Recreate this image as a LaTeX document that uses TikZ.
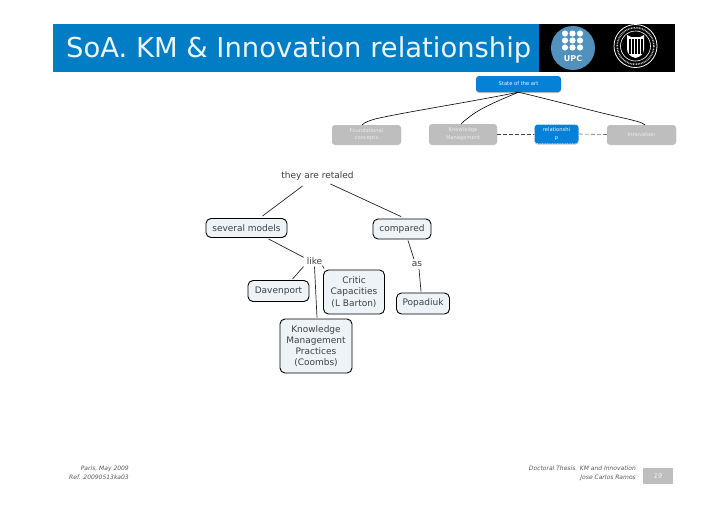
\documentclass[tikz,border=0pt]{standalone}
\usepackage{fontspec}
\setmainfont{DejaVu Sans}
\definecolor{upcblue}{RGB}{0,125,197}
\definecolor{boxblue}{RGB}{5,130,215}
\definecolor{greybox}{RGB}{190,190,190}
\definecolor{mapfill}{RGB}{238,243,247}
\definecolor{upccirc}{RGB}{80,145,190}
\usetikzlibrary{shadows,calc}
\tikzset{
 x=1pt,y=-1pt,
 mapbox/.style={draw=black,line width=0.9pt,rounded corners=5pt,fill=mapfill,inner sep=0pt,align=center,font=\fontsize{9}{11.2}\selectfont,text=black!75},
 mapword/.style={inner sep=0pt,font=\fontsize{9}{11}\selectfont,text=black!75},
 mapline/.style={draw=black!85,line width=0.7pt},
 topbox/.style={rounded corners=3pt,inner sep=0pt,align=center,font=\fontsize{5.2}{7.5}\selectfont,drop shadow={shadow xshift=0pt,shadow yshift=-1pt,opacity=.4,fill=black!60}},
 topgrey/.style={topbox,fill=greybox,text=white!70!greybox},
 topblue/.style={topbox,fill=boxblue,text=white!92!gray},
 foot/.style={inner sep=0pt,align=right,font=\fontsize{6}{9}\selectfont\itshape,text=black!65},
}
\begin{document}
\begin{tikzpicture}
\useasboundingbox (0,0) rectangle (728,514);
\fill[white] (0,0) rectangle (728,514);
% header
\fill[upcblue] (53,24) rectangle (539,72);
\fill[black] (539,24) rectangle (675,72);
\node[anchor=west,inner sep=0pt,text=white!92!upcblue,font=\fontsize{27.4}{30}\selectfont] (title) at (66,49.5) {SoA. KM \& Innovation relationship};
% UPC logo
\fill[upccirc] (573,48) circle (22);
\foreach \r in {0,1,2}\foreach \c in {0,1,2}{\fill[white] (565+7.5*\c,33.5+7*\r) circle (3.1);}
\node[inner sep=0pt,text=white,font=\fontsize{8}{8}\selectfont\bfseries] (upc) at (573,58.5) {UPC};
% seal
\draw[white,line width=0.8pt] (635.5,46) circle (21.5);
\draw[white!75!black,line width=1.6pt,dash pattern=on 0.8pt off 0.8pt] (635.5,46) circle (18.3);
\draw[white,line width=0.6pt] (635.5,46) circle (15);
\fill[white] (627,35) -- (631,37) -- (640,37) -- (644,35) -- (644,49) .. controls (644,54) and (640,57) .. (635.5,58) .. controls (631,57) and (627,54) .. (627,49) -- cycle;
\foreach \xx in {630,633,636,639,642}{\fill[black] (\xx-0.6,39) rectangle (\xx+0.6,54);}
% top boxes
\node[topblue,minimum width=85pt,minimum height=16pt] (soa) at (518.5,84) {State of the art};
\node[topgrey,minimum width=69pt,minimum height=19pt] (found) at (366.5,134.5) {Foundational\\concepts};
\node[topgrey,minimum width=68pt,minimum height=20pt] (km) at (463,134) {Knowledge\\Management};
\node[topblue,draw=white,dotted,line width=0.5pt,minimum width=44pt,minimum height=19pt] (rel) at (556.5,134) {relationshi\\p};
\node[topgrey,minimum width=69pt,minimum height=19pt] (inn) at (641.5,134.5) {Innovation};
\draw[line width=0.6pt] (soa.south) .. controls (470,102) and (400,113) .. (375,119) .. controls (370,120.5) and (365,122) .. (362,125);
\draw[line width=0.6pt] (soa.south) .. controls (500,100) and (480,108) .. (468,118) .. controls (465,120) and (463,122) .. (461,124);
\draw[line width=0.6pt] (soa.south) .. controls (560,102) and (600,113) .. (628,119) .. controls (635,121) and (642,122) .. (645,125);
\draw[dashed,dash pattern=on 4pt off 2pt,line width=0.6pt,black!75] (km.east) -- (rel.west);
\draw[dashed,dash pattern=on 4pt off 2pt,line width=0.6pt,black!60] (rel.east) -- (inn.west);
% concept map
\node[mapword] (they) at (317.5,176) {they are retaled};
\node[mapbox,minimum width=81pt,minimum height=19pt] (models) at (246.5,228) {several models};
\node[mapbox,minimum width=58pt,minimum height=20pt] (comp) at (402,229) {compared};
\node[mapword] (like) at (314.5,261) {like};
\node[mapword] (as) at (417,264) {as};
\node[mapbox,minimum width=61pt,minimum height=21pt] (dav) at (278.5,291) {Davenport};
\node[mapbox,minimum width=61pt,minimum height=44pt] (critic) at (354,292) {Critic\\Capacities\\(L Barton)};
\node[mapbox,minimum width=53pt,minimum height=21pt] (pop) at (423,303.5) {Popadiuk};
\node[mapbox,minimum width=72pt,minimum height=54pt] (kmp) at (316,346) {Knowledge\\Management\\Practices\\(Coombs)};
\draw[mapline] ($(they)+(-15,10)$) -- ($(models.north)+(16,-2)$);
\draw[mapline] ($(they)+(13,8)$) -- ($(comp.north)+(-1,-2)$);
\draw[mapline] ($(models.south)+(22,1)$) -- ($(like.north west)+(-3,0)$);
\draw[mapline] ($(like.south)+(-11,2)$) -- ($(dav.north)+(14,-1)$);
\draw[mapline] ($(like.south)+(8,1)$) -- ($(critic.north west)+(1,-1)$);
\draw[mapline] ($(like.south)+(0,2)$) -- ($(kmp.north)+(1,-1)$);
\draw[mapline] ($(comp.south)+(6,1)$) -- ($(as.north)+(-3,-2)$);
\draw[mapline] ($(as.south)+(2,2)$) -- ($(pop.north)+(-2,-1)$);
% footer
\node[foot,anchor=east] (f1) at (129,472.5) {Paris, May 2009\\Ref. 20090513ka03};
\node[foot,anchor=east] (f2) at (636,473.5) {Doctoral Thesis. KM and Innovation\\Jose Carlos Ramos};
\fill[greybox] (643,468) rectangle (673,484);
\node[inner sep=0pt,text=white!90!gray,font=\fontsize{6.5}{8}\selectfont\itshape] (pg) at (658,476) {19};
\end{tikzpicture}
\end{document}
